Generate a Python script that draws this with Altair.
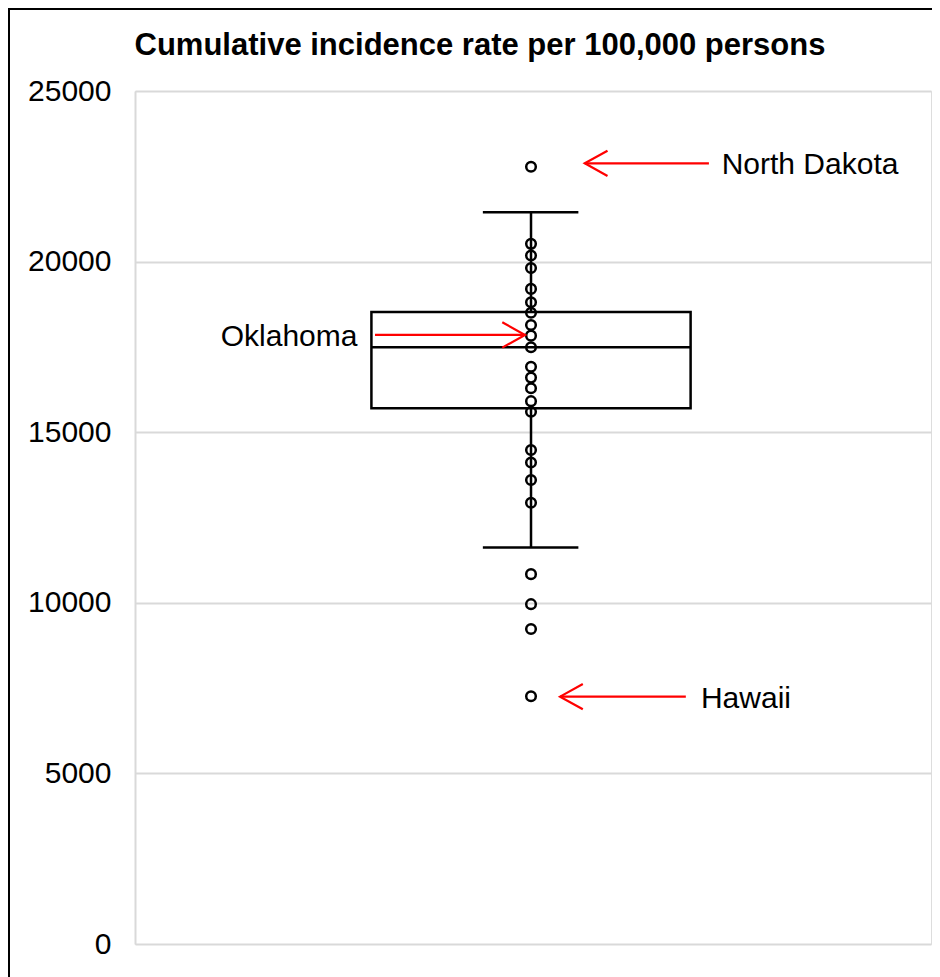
import altair as alt
import pandas as pd

# ---------------- data ----------------
TITLE = "Cumulative incidence rate per 100,000 persons"
Y_TICKS = [0, 5000, 10000, 15000, 20000, 25000]

# individual state rates that are visible as circles
POINT_VALUES = [22780, 20520, 20180, 19810, 19200, 18810, 18500, 18140,
                17830, 17490, 16920, 16600, 16290, 15910, 15600, 14480,
                14110, 13600, 12930, 10840, 9960, 9230, 7260]

# box-plot summary
Q1 = 15700
MEDIAN = 17490
Q3 = 18520
WHISKER_LOW = 11620
WHISKER_HIGH = 21450

# annotations
ANNOT_LABELS = ["North Dakota", "Oklahoma", "Hawaii"]
ANNOT_RATES = [22880, 17850, 7250]

# ---------------- layout (kept apart from the data) ----------------
CENTER = 0.4975
BOX_L, BOX_R = 0.297, 0.698
CAP_L, CAP_R = 0.437, 0.557
ANNOT_TEXT_X = [0.737, 0.2795, 0.711]
ANNOT_ALIGN = ["left", "right", "left"]
ARROW_TIP = [0.565, 0.490, 0.534]
ARROW_TAIL = [0.721, 0.3015, 0.692]
HEAD_LEFT = "M1.8,-1L0,0L1.8,1"
HEAD_RIGHT = "M-1.8,-1L0,0L-1.8,1"
ANNOT_HEAD = [HEAD_LEFT, HEAD_RIGHT, HEAD_LEFT]

FONT = "Liberation Sans"
FS = 30
RED = "#ff0000"
GRID = "#d9d9d9"
LW = 2.5

df_points = pd.DataFrame({"rate": POINT_VALUES})
df_box = pd.DataFrame({"q1": [Q1], "median": [MEDIAN], "q3": [Q3],
                       "lo": [WHISKER_LOW], "hi": [WHISKER_HIGH]})
df_ann = pd.DataFrame({"label": ANNOT_LABELS, "rate": ANNOT_RATES,
                       "text_x": ANNOT_TEXT_X, "align": ANNOT_ALIGN,
                       "tip": ARROW_TIP, "tail": ARROW_TAIL,
                       "head": ANNOT_HEAD})

xs = alt.Scale(domain=[0, 1], nice=False, zero=False)
ys = alt.Scale(domain=[0, 25000], nice=False)
yaxis = alt.Axis(values=Y_TICKS, format="d", title=None, ticks=False,
                 labelFontSize=FS, labelFont=FONT, labelColor="black",
                 labelPadding=24, domainColor=GRID, domainWidth=2,
                 gridColor=GRID, gridWidth=2)


def xd(v):
    return alt.XDatum(v, scale=xs, axis=None)


frame = alt.Chart(df_box).mark_rect(
    fill="white", fillOpacity=0, stroke="black", strokeWidth=2, clip=False
).encode(x=alt.value(-126), y=alt.value(-82),
         x2=alt.value(2000), y2=alt.value(2000))

box = alt.Chart(df_box).mark_rect(
    fill="white", fillOpacity=0, stroke="black", strokeWidth=LW
).encode(x=xd(BOX_L), x2=alt.X2Datum(BOX_R),
         y=alt.Y("q1:Q", scale=ys, axis=yaxis), y2="q3:Q")

rule_kw = dict(color="black", strokeWidth=LW)
median = alt.Chart(df_box).mark_rule(**rule_kw).encode(
    x=xd(BOX_L), x2=alt.X2Datum(BOX_R),
    y=alt.Y("median:Q", scale=ys, axis=yaxis))
wh_up = alt.Chart(df_box).mark_rule(**rule_kw).encode(
    x=xd(CENTER), y=alt.Y("q3:Q", scale=ys, axis=yaxis), y2="hi:Q")
wh_dn = alt.Chart(df_box).mark_rule(**rule_kw).encode(
    x=xd(CENTER), y=alt.Y("lo:Q", scale=ys, axis=yaxis), y2="q1:Q")
cap_hi = alt.Chart(df_box).mark_rule(**rule_kw).encode(
    x=xd(CAP_L), x2=alt.X2Datum(CAP_R),
    y=alt.Y("hi:Q", scale=ys, axis=yaxis))
cap_lo = alt.Chart(df_box).mark_rule(**rule_kw).encode(
    x=xd(CAP_L), x2=alt.X2Datum(CAP_R),
    y=alt.Y("lo:Q", scale=ys, axis=yaxis))

points = alt.Chart(df_points).mark_point(
    shape="circle", filled=False, stroke="black", strokeWidth=LW,
    size=92, opacity=1
).encode(x=xd(CENTER), y=alt.Y("rate:Q", scale=ys, axis=yaxis))

arrows = alt.Chart(df_ann).mark_rule(color=RED, strokeWidth=2.2).encode(
    x=alt.X("tip:Q", scale=xs, axis=None), x2="tail:Q",
    y=alt.Y("rate:Q", scale=ys, axis=yaxis))
heads = alt.Chart(df_ann).mark_point(
    filled=False, stroke=RED, strokeWidth=2.2, size=640, opacity=1
).encode(x=alt.X("tip:Q", scale=xs, axis=None),
         y=alt.Y("rate:Q", scale=ys, axis=yaxis),
         shape=alt.Shape("head:N", scale=None))

text_kw = dict(baseline="middle", dy=2, fontSize=FS, font=FONT, color="black")
texts_l = alt.Chart(df_ann).transform_filter("datum.align == 'left'").mark_text(
    align="left", **text_kw
).encode(x=alt.X("text_x:Q", scale=xs, axis=None),
         y=alt.Y("rate:Q", scale=ys, axis=yaxis), text="label:N")
texts_r = alt.Chart(df_ann).transform_filter("datum.align == 'right'").mark_text(
    align="right", **text_kw
).encode(x=alt.X("text_x:Q", scale=xs, axis=None),
         y=alt.Y("rate:Q", scale=ys, axis=yaxis), text="label:N")

title = alt.Chart(df_box).mark_text(
    text=TITLE, fontSize=31, fontWeight="bold", font=FONT, color="black",
    align="center", baseline="alphabetic", clip=False
).encode(x=alt.value(345), y=alt.value(-36))

chart = alt.layer(
    frame, box, median, wh_up, wh_dn, cap_hi, cap_lo, points,
    arrows, heads, texts_l, texts_r, title
).properties(
    width=796, height=853,
    autosize=alt.AutoSizeParams(type="none"),
    padding={"left": 127, "top": 83, "right": 1, "bottom": 33},
).configure_view(stroke=None).configure(font=FONT)

chart.save("out.html", embed_options={"renderer": "svg", "actions": False})
